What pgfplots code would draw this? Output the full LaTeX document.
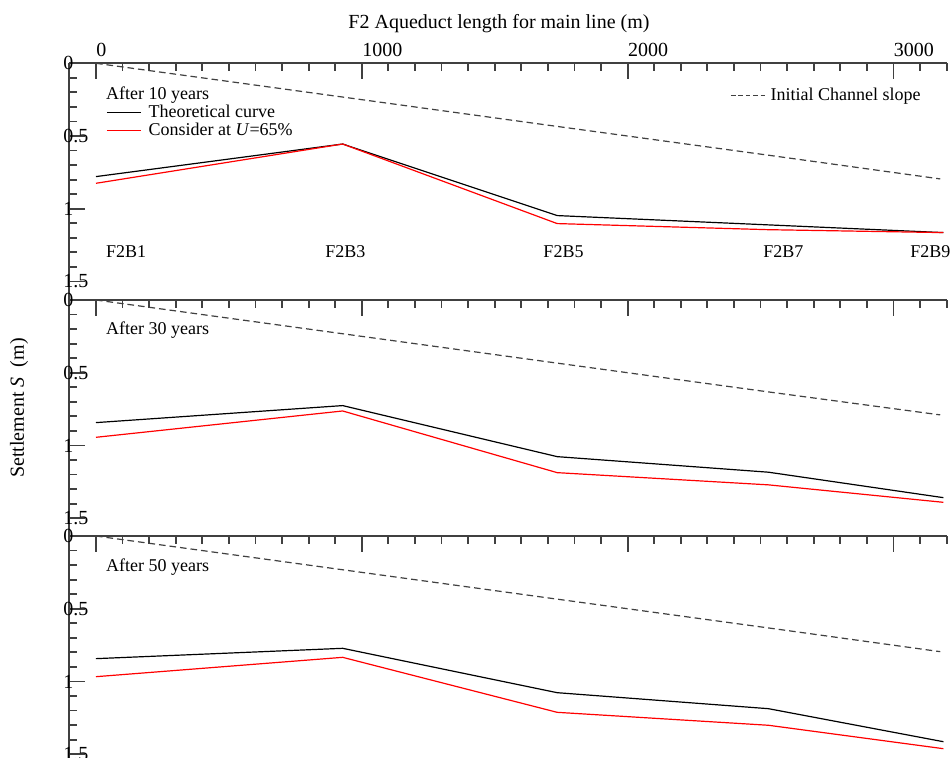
\documentclass[border=0pt]{standalone}
\usepackage{fontspec}
\setmainfont{Liberation Serif}
\usepackage{pgfplots}
\pgfplotsset{compat=1.18}
\definecolor{axgray}{RGB}{64,64,64}
\tikzset{
  ann/.style={font=\fontsize{9}{11}\selectfont, inner sep=0pt},
  theo/.style={black, line width=0.6pt},
  cons/.style={red, line width=0.6pt},
  slope/.style={axgray, line width=0.6pt, dash pattern=on 3.3pt off 2pt},
  slopeleg/.style={axgray, line width=0.6pt, dash pattern=on 2.3pt off 1.4pt},
}
\pgfplotsset{
  panel/.style={
    scale only axis, width=438.6pt,
    xmin=-100, xmax=3200, ymin=0,
    y dir=reverse,
    axis x line*=top, axis y line*=left,
    axis line style={axgray, line width=0.9pt, -},
    every tick/.style={axgray, line width=0.9pt},
    tick align=inside,
    major tick length=8pt, minor tick length=4pt,
    xtick={0,1000,2000,3000},
    minor xtick={-100,100,200,300,400,500,600,700,800,900,1100,1200,1300,1400,1500,1600,1700,1800,1900,2100,2200,2300,2400,2500,2600,2700,2800,2900,3100,3200},
    ytick={0,0.5,1,1.5}, yticklabels={0,0.5,1,1.5},
    minor ytick={0.1,0.2,0.3,0.4,0.6,0.7,0.8,0.9,1.1,1.2,1.3,1.4},
    yticklabel style={anchor=west, xshift=-6.5pt, font=\fontsize{10}{12}\selectfont},
    xticklabel style={anchor=south west, xshift=-3.3pt, font=\fontsize{10}{12}\selectfont},
    /pgf/number format/assume math mode=true,
    clip=false,
  },
}
\begin{document}
\begin{tikzpicture}
% ---------- Panel 1 : after 10 years
\begin{axis}[panel, at={(34.7pt,-31.65pt)}, anchor=north west,
  height=118.1pt, ymax=1.624,
  xticklabels={0,1000,2000,3000},
  legend style={draw=none, fill=none, at={(0.0417,0.828)}, anchor=north west,
    font=\fontsize{9}{11}\selectfont, inner sep=0pt, row sep=0.5pt, column sep=3.5pt,
    nodes={inner sep=0pt, text height=6.5pt, text depth=2pt}},
  legend cell align=left,
  legend image code/.code={\draw[#1] (0pt,0pt) -- (17pt,0pt);},
  xlabel={F2 Aqueduct length for main line (m)},
  xlabel style={font=\fontsize{10}{12}\selectfont, xshift=-4.5pt, yshift=-2pt},
]
\addplot[slope, forget plot] coordinates {(0,0) (928,0.232) (1735,0.434) (2530,0.632) (3176,0.795)};
\addplot[theo] coordinates {(0,0.779) (928,0.555) (1735,1.047) (2530,1.111) (3188,1.164)};
\addlegendentry{Theoretical curve}
\addplot[cons] coordinates {(0,0.825) (928,0.555) (1735,1.102) (2530,1.144) (3188,1.164)};
\addlegendentry{Consider at \textit{U}=65\%}
\node[ann, anchor=west] at (axis cs:37,0.218) {After 10 years};
\node[ann, anchor=west] at (axis cs:37,1.297) {F2B1};
\node[ann, anchor=west] at (axis cs:861,1.297) {F2B3};
\node[ann, anchor=west] at (axis cs:1682,1.297) {F2B5};
\node[ann, anchor=west] at (axis cs:2509,1.297) {F2B7};
\node[ann, anchor=west] at (axis cs:3062,1.297) {F2B9};
\end{axis}
% hidden axis for the dashed legend
\begin{axis}[panel, at={(34.7pt,-31.65pt)}, anchor=north west,
  height=118.1pt, ymax=1.624, hide axis,
  legend style={draw=none, fill=none, at={(0.753,0.90)}, anchor=north west,
    font=\fontsize{9}{11}\selectfont, inner sep=0pt, column sep=2.5pt,
    nodes={inner sep=0pt, text height=6.5pt, text depth=2pt}},
  legend image code/.code={\draw[#1] (0pt,0pt) -- (17pt,0pt);},
]
\addlegendimage{slopeleg}
\addlegendentry{Initial Channel slope}
\end{axis}
% ---------- Panel 2 : after 30 years
\begin{axis}[panel, at={(34.7pt,-150pt)}, anchor=north west,
  height=118.1pt, ymax=1.624, xticklabels={}]
\addplot[slope] coordinates {(0,0) (928,0.232) (1735,0.434) (2530,0.632) (3176,0.790)};
\addplot[theo] coordinates {(0,0.843) (928,0.726) (1735,1.077) (2530,1.184) (3188,1.359)};
\addplot[cons] coordinates {(0,0.944) (928,0.763) (1735,1.187) (2530,1.271) (3188,1.391)};
\node[ann, anchor=west] at (axis cs:37,0.206) {After 30 years};
\end{axis}
% ---------- Panel 3 : after 50 years
\begin{axis}[panel, at={(34.7pt,-268pt)}, anchor=north west,
  height=111pt, ymax=1.526, xticklabels={}]
\addplot[slope] coordinates {(0,0) (928,0.232) (1735,0.434) (2530,0.632) (3176,0.795)};
\addplot[theo] coordinates {(0,0.843) (928,0.772) (1735,1.077) (2530,1.187) (3188,1.414)};
\addplot[cons] coordinates {(0,0.967) (928,0.834) (1735,1.212) (2530,1.301) (3188,1.462)};
\node[ann, anchor=west] at (axis cs:37,0.211) {After 50 years};
\end{axis}
\node[rotate=90, font=\fontsize{10}{12}\selectfont, inner sep=0pt] at (9.5pt,-204pt) {Settlement \textit{S}\ \ (m)};
\pgfresetboundingbox
\useasboundingbox (0,0) rectangle (475.5pt,-379pt);
\end{tikzpicture}
\end{document}
